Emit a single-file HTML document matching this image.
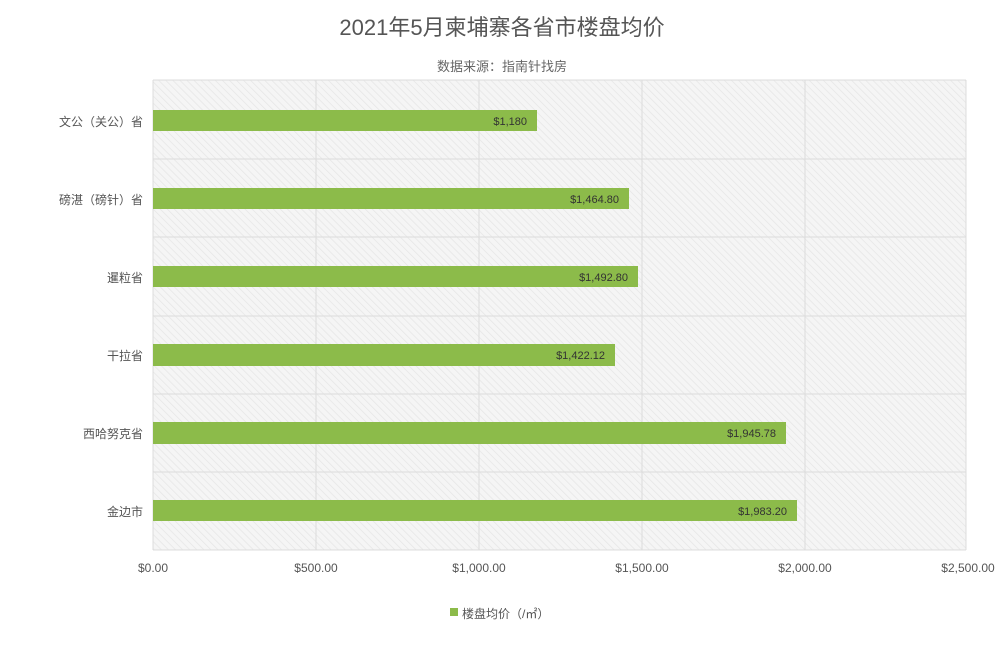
<!DOCTYPE html>
<html><head><meta charset="utf-8"><style>
body{margin:0;width:1004px;height:648px;background:#fff;font-family:"Liberation Sans","Noto Sans CJK SC",sans-serif;position:relative;overflow:hidden}
.t{position:absolute;left:0;width:1004px;text-align:center;color:#555}
.yl{position:absolute;right:861px;font-size:12px;color:#555;white-space:nowrap}
.xl{position:absolute;top:561px;font-size:12px;color:#555;width:100px;text-align:center}
</style></head><body>
<div class="t" style="top:10px;font-size:22px;color:#555">2021年5月柬埔寨各省市楼盘均价</div>
<div class="t" style="top:56px;font-size:13px;color:#666">数据来源：指南针找房</div>
<svg width="1004" height="648" style="position:absolute;left:0;top:0">
<defs><pattern id="h" width="5" height="5" patternUnits="userSpaceOnUse" patternTransform="rotate(-45)"><rect width="5" height="5" fill="#f5f5f5"/><line x1="0" y1="0" x2="0" y2="5" stroke="#e6e6e6" stroke-width="1.5"/></pattern></defs>
<rect x="153" y="80" width="813" height="470" fill="url(#h)"/>
<g stroke="#dcdcdc" stroke-width="1">
<line x1="153" y1="80" x2="966" y2="80"/><line x1="153" y1="159" x2="966" y2="159"/><line x1="153" y1="237" x2="966" y2="237"/><line x1="153" y1="316" x2="966" y2="316"/><line x1="153" y1="394" x2="966" y2="394"/><line x1="153" y1="472" x2="966" y2="472"/><line x1="153" y1="550" x2="966" y2="550"/>
<line x1="153" y1="80" x2="153" y2="550"/><line x1="316" y1="80" x2="316" y2="550"/><line x1="479" y1="80" x2="479" y2="550"/><line x1="642" y1="80" x2="642" y2="550"/><line x1="805" y1="80" x2="805" y2="550"/><line x1="966" y1="80" x2="966" y2="550"/>
</g>
<g fill="#8cbb4a">
<rect x="153" y="110" width="384" height="21"/><rect x="153" y="188" width="476" height="21"/><rect x="153" y="266" width="485" height="21"/><rect x="153" y="344" width="462" height="22"/><rect x="153" y="422" width="633" height="22"/><rect x="153" y="500" width="644" height="21"/>
</g>
<g font-size="11" fill="#333" text-anchor="end" font-family="Liberation Sans,sans-serif">
<text x="527" y="125">$1,180</text><text x="619" y="203">$1,464.80</text><text x="628" y="281">$1,492.80</text><text x="605" y="359">$1,422.12</text><text x="776" y="437">$1,945.78</text><text x="787" y="515">$1,983.20</text>
</g>
<rect x="450" y="608" width="8" height="8" fill="#8cbb4a"/>
</svg>
<div class="yl" style="top:113px">文公（关公）省</div>
<div class="yl" style="top:191px">磅湛（磅针）省</div>
<div class="yl" style="top:269px">暹粒省</div>
<div class="yl" style="top:347px">干拉省</div>
<div class="yl" style="top:425px">西哈努克省</div>
<div class="yl" style="top:503px">金边市</div>
<div class="xl" style="left:103px">$0.00</div>
<div class="xl" style="left:266px">$500.00</div>
<div class="xl" style="left:429px">$1,000.00</div>
<div class="xl" style="left:592px">$1,500.00</div>
<div class="xl" style="left:755px">$2,000.00</div>
<div class="xl" style="left:918px">$2,500.00</div>
<div style="position:absolute;left:462px;top:605px;font-size:12px;color:#555">楼盘均价（/㎡）</div>
</body></html>
